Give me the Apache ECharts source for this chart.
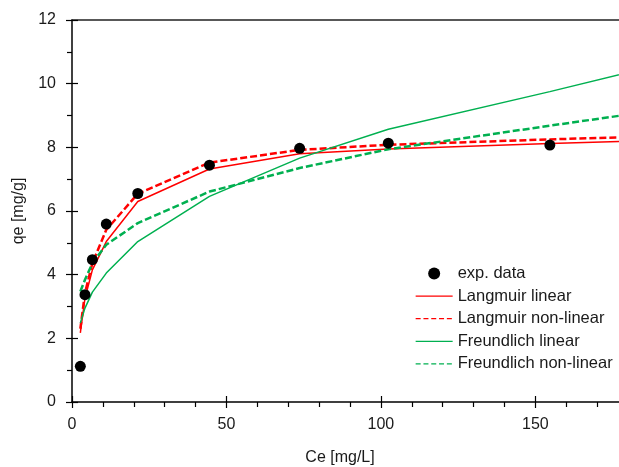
<!DOCTYPE html>
<html>
<head>
<meta charset="utf-8">
<script src="https://cdn.jsdelivr.net/npm/echarts@6/dist/echarts.min.js"></script>
<style>
  html, body { margin: 0; padding: 0; background: #fff; }
  #chart { width: 619px; height: 467px; }
</style>
</head>
<body>
<div id="chart"></div>
<script>
// experimental points
const ceExp = [2.7, 4.2, 6.6, 11.1, 21.3, 44.5, 73.7, 102.4, 154.7];
const qeExp = [1.12, 3.37, 4.47, 5.59, 6.55, 7.44, 7.97, 8.13, 8.07];

// model curves
const ceFit = [2.7, 4.2, 6.6, 11.1, 21.3, 44.5, 73.7, 102.4, 154.7, 180];
const langmuirLin = [2.17, 3.26, 4.15, 5.04, 6.30, 7.32, 7.80, 7.95, 8.12, 8.19];
const langmuirNonLin = [2.3, 3.42, 4.36, 5.41, 6.54, 7.52, 7.92, 8.08, 8.25, 8.32];
const freundlichLin = [2.48, 2.95, 3.45, 4.05, 5.04, 6.46, 7.66, 8.57, 9.75, 10.35];
const freundlichNonLin = [3.47, 3.84, 4.36, 4.94, 5.62, 6.61, 7.35, 7.94, 8.68, 9.03];

const RED = '#ff0000';
const GREEN = '#00b050';
const FONT = 'Liberation Sans';
const TEXT = '#1a1a1a';

const pairs = (xs, ys) => xs.map((x, i) => [x, ys[i]]);

const chart = echarts.init(document.getElementById('chart'));

const lineSeries = (name, ys, color, dashed) => ({
    name: name,
    type: 'line',
    data: pairs(ceFit, ys),
    symbol: 'none',
    silent: true,
    lineStyle: {
        color: color,
        width: dashed ? 2.5 : 1.5,
        type: dashed ? [7, 3] : 'solid'
    },
    itemStyle: { color: color }
});

// legend entries for the fitted lines: thin line only, no marker
const lineEntry = (name, dashed) => ({
    name: name,
    itemStyle: { opacity: 0 },
    lineStyle: { width: 1.3, type: dashed ? [5, 2.8] : 'solid' }
});

const option = {
    backgroundColor: '#fff',
    animation: false,
    grid: { left: 72, right: -9, top: 20, bottom: 65, outerBoundsMode: 'none', containLabel: false },
    legend: {
        orient: 'vertical',
        left: 410,
        top: 260,
        itemWidth: 37,
        itemHeight: 12,
        itemGap: 5.6,
        textStyle: { fontFamily: FONT, fontSize: 16.5, color: TEXT },
        data: [
            'exp. data',
            lineEntry('Langmuir linear', false),
            lineEntry('Langmuir non-linear', true),
            lineEntry('Freundlich linear', false),
            lineEntry('Freundlich non-linear', true)
        ]
    },
    xAxis: [
        {
            type: 'value', min: 0, max: 180, interval: 50, position: 'bottom',
            name: 'Ce [mg/L]', nameLocation: 'middle', nameGap: 48,
            nameTextStyle: { fontFamily: FONT, fontSize: 16, color: TEXT, padding: [0, 20, 0, 0] },
            axisLine: { lineStyle: { color: '#000', width: 1.5 } },
            axisTick: { inside: false, length: 6, lineStyle: { color: '#000', width: 1.2 } },
            minorTick: { show: true, splitNumber: 5, length: 5, lineStyle: { color: '#000', width: 1.2 } },
            axisLabel: { margin: 15, fontFamily: FONT, fontSize: 16, color: TEXT, showMaxLabel: false },
            splitLine: { show: false }
        },
        {
            type: 'value', min: 0, max: 180, interval: 50, position: 'bottom',
            axisLine: { show: false },
            axisTick: { inside: true, length: 6, lineStyle: { color: '#000', width: 1.2 } },
            axisLabel: { show: false },
            splitLine: { show: false }
        },
        {
            type: 'value', min: 0, max: 180, position: 'top',
            axisLine: { lineStyle: { color: '#222', width: 1.5 } },
            axisTick: { show: false },
            axisLabel: { show: false },
            splitLine: { show: false }
        }
    ],
    yAxis: [
        {
            type: 'value', min: 0, max: 12, interval: 2, position: 'left',
            name: 'qe [mg/g]', nameLocation: 'middle', nameGap: 45,
            nameTextStyle: { fontFamily: FONT, fontSize: 16, color: TEXT },
            axisLine: { show: true, lineStyle: { color: '#000', width: 1.5 } },
            axisTick: { show: true, inside: false, length: 6, lineStyle: { color: '#000', width: 1.2 } },
            minorTick: { show: true, splitNumber: 2, length: 5, lineStyle: { color: '#000', width: 1.2 } },
            axisLabel: { margin: 16, fontFamily: FONT, fontSize: 16, color: TEXT },
            splitLine: { show: false }
        },
        {
            type: 'value', min: 0, max: 12, interval: 2, position: 'left',
            axisLine: { show: false },
            axisTick: { show: true, inside: true, length: 6, lineStyle: { color: '#000', width: 1.2 } },
            axisLabel: { show: false },
            splitLine: { show: false }
        }
    ],
    series: [
        lineSeries('Langmuir linear', langmuirLin, RED, false),
        lineSeries('Langmuir non-linear', langmuirNonLin, RED, true),
        lineSeries('Freundlich linear', freundlichLin, GREEN, false),
        lineSeries('Freundlich non-linear', freundlichNonLin, GREEN, true),
        {
            name: 'exp. data',
            type: 'scatter',
            data: pairs(ceExp, qeExp),
            symbol: 'circle',
            symbolSize: 11,
            itemStyle: { color: '#000', opacity: 1 },
            z: 5
        }
    ]
};

chart.setOption(option);
</script>
</body>
</html>
